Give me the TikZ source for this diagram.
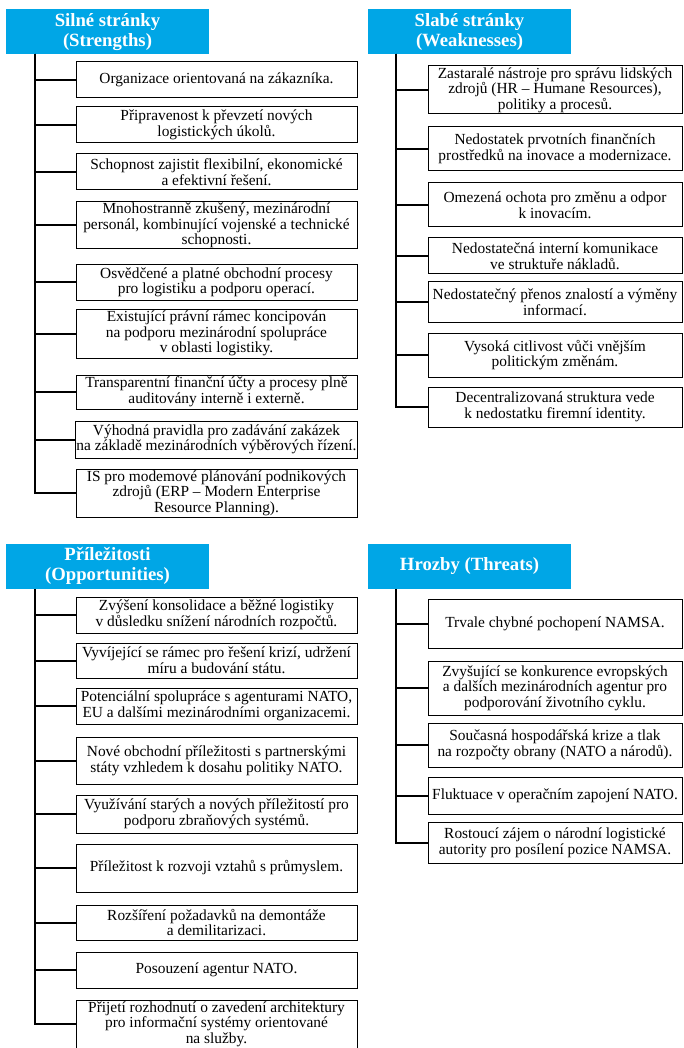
\documentclass[tikz,border=0pt]{standalone}
\usepackage{fontspec}
\setmainfont{Liberation Serif}
\usetikzlibrary{positioning}
\definecolor{swotblue}{RGB}{0,166,230}

\begin{document}
\begin{tikzpicture}[x=1pt, y=-1pt,
    head/.style={fill=swotblue, text=white, minimum width=203, minimum height=45, inner sep=0pt, align=center, font=\fontsize{18.7}{20}\selectfont\bfseries},
    item/.style={draw, line width=1pt, fill=white, inner xsep=1pt, inner ysep=0pt, align=center, font=\fontsize{15.4}{15.6}\selectfont},
    litem/.style={item, minimum width=281},
    ritem/.style={item, minimum width=254},
    branch/.style={line width=2pt, to path={|- (\tikztotarget)}}]
    \useasboundingbox (0,0) rectangle (683,1048);

    % headers
    \node[head]                        (str)  at (107.5,32)  {Silné stránky\\(Strengths)};
    \node[head]                        (weak) at (469.5,32)  {Slabé stránky\\(Weaknesses)};
    \node[head]                        (opp)  at (107.5,566) {Příležitosti\\(Opportunities)};
    \node[head]                        (thr)  at (469.5,566) {Hrozby (Threats)};

    \coordinate (sroot) at (35,54);
    \coordinate (wroot) at (396,54);
    \coordinate (oroot) at (35,589);
    \coordinate (troot) at (396,589);

    % strengths
    \node[litem, minimum height=36]    (s1)   at (216.5,80)   {Organizace orientovaná na zákazníka.};
    \node[litem, minimum height=36]    (s2)   at (216.5,125)  {Připravenost k převzetí nových\\logistických úkolů.};
    \node[litem, minimum height=36]    (s3)   at (216.5,172)  {Schopnost zajistit flexibilní, ekonomické\\a efektivní řešení.};
    \node[litem, minimum height=47]    (s4)   at (216.5,225.5){Mnohostranně zkušený, mezinárodní\\personál, kombinující vojenské a technické\\schopnosti.};
    \node[litem, minimum height=35]    (s5)   at (216.5,282.5){Osvědčené a platné obchodní procesy\\pro logistiku a podporu operací.};
    \node[litem, minimum height=49]    (s6)   at (216.5,333.5){Existující právní rámec koncipován\\na podporu mezinárodní spolupráce\\v oblasti logistiky.};
    \node[litem, minimum height=34]    (s7)   at (216.5,392)  {Transparentní finanční účty a procesy plně\\auditovány interně i externě.};
    \node[litem, minimum height=37]    (s8)   at (216.5,439.5){Výhodná pravidla pro zadávání zakázek\\na základě mezinárodních výběrových řízení.};
    \node[litem, minimum height=48]    (s9)   at (216.5,493)  {IS pro modemové plánování podnikových\\zdrojů (ERP – Modern Enterprise\\Resource Planning).};

    % weaknesses
    \node[ritem, minimum height=48]    (w1)   at (555,90)     {Zastaralé nástroje pro správu lidských\\zdrojů (HR – Humane Resources),\\politiky a procesů.};
    \node[ritem, minimum height=44]    (w2)   at (555,149)    {Nedostatek prvotních finančních\\prostředků na inovace a modernizace.};
    \node[ritem, minimum height=44]    (w3)   at (555,205)    {Omezená ochota pro změnu a odpor\\k inovacím.};
    \node[ritem, minimum height=36]    (w4)   at (555,256)    {Nedostatečná interní komunikace\\ve struktuře nákladů.};
    \node[ritem, minimum height=40]    (w5)   at (555,302)    {Nedostatečný přenos znalostí a výměny\\informací.};
    \node[ritem, minimum height=44]    (w6)   at (555,355)    {Vysoká citlivost vůči vnějším\\politickým změnám.};
    \node[ritem, minimum height=40]    (w7)   at (555,407)    {Decentralizovaná struktura vede\\k nedostatku firemní identity.};

    % opportunities
    \node[litem, minimum height=36]    (o1)   at (216.5,615)  {Zvýšení konsolidace a běžné logistiky\\v důsledku snížení národních rozpočtů.};
    \node[litem, minimum height=35]    (o2)   at (216.5,660.5){Vyvíjející se rámec pro řešení krizí, udržení\\míru a budování státu.};
    \node[litem, minimum height=36]    (o3)   at (216.5,706)  {Potenciální spolupráce s agenturami NATO,\\EU a dalšími mezinárodními organizacemi.};
    \node[litem, minimum height=47]    (o4)   at (216.5,760.5){Nové obchodní příležitosti s partnerskými\\státy vzhledem k dosahu politiky NATO.};
    \node[litem, minimum height=38]    (o5)   at (216.5,814)  {Využívání starých a nových příležitostí pro\\podporu zbraňových systémů.};
    \node[litem, minimum height=48]    (o6)   at (216.5,868)  {Příležitost k rozvoji vztahů s průmyslem.};
    \node[litem, minimum height=35]    (o7)   at (216.5,922.5){Rozšíření požadavků na demontáže\\a demilitarizaci.};
    \node[litem, minimum height=36]    (o8)   at (216.5,970)  {Posouzení agentur NATO.};
    \node[litem, minimum height=48]    (o9)   at (216.5,1024) {Přijetí rozhodnutí o zavedení architektury\\pro informační systémy orientované\\na služby.};

    % threats
    \node[ritem, minimum height=49]    (t1)   at (555,623.5)  {Trvale chybné pochopení NAMSA.};
    \node[ritem, minimum height=54]    (t2)   at (555,688)    {Zvyšující se konkurence evropských\\a dalších mezinárodních agentur pro\\podporování životního cyklu.};
    \node[ritem, minimum height=44]    (t3)   at (555,745)    {Současná hospodářská krize a tlak\\na rozpočty obrany (NATO a národů).};
    \node[ritem, minimum height=37]    (t4)   at (555,795.5)  {Fluktuace v operačním zapojení NATO.};
    \node[ritem, minimum height=41]    (t5)   at (555,842.5)  {Rostoucí zájem o národní logistické\\autority pro posílení pozice NAMSA.};

    \draw[branch]   (sroot) edge (s1.west) edge (s2.west) edge (s3.west) edge (s4.west) edge (s5.west)
                            edge (s6.west) edge (s7.west) edge (s8.west) edge (s9.west)
                    (wroot) edge (w1.west) edge (w2.west) edge (w3.west) edge (w4.west) edge (w5.west)
                            edge (w6.west) edge (w7.west)
                    (oroot) edge (o1.west) edge (o2.west) edge (o3.west) edge (o4.west) edge (o5.west)
                            edge (o6.west) edge (o7.west) edge (o8.west) edge (o9.west)
                    (troot) edge (t1.west) edge (t2.west) edge (t3.west) edge (t4.west) edge (t5.west);
\end{tikzpicture}
\end{document}
